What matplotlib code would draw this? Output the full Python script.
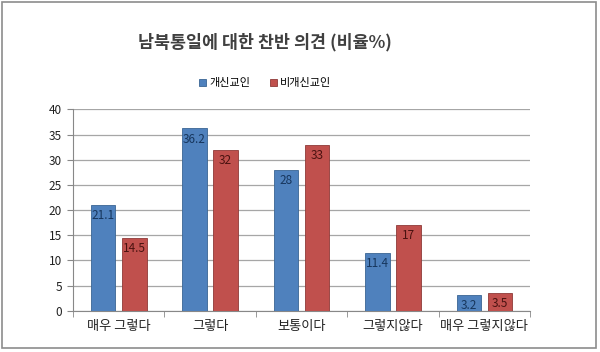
import numpy as np
import matplotlib.pyplot as plt
from matplotlib.patches import Rectangle

plt.rcParams['font.family'] = ['Noto Sans CJK KR', 'DejaVu Sans']

categories = ['매우 그렇다', '그렇다', '보통이다', '그렇지않다', '매우 그렇지않다']
christian = [21.1, 36.2, 28, 11.4, 3.2]
non_christian = [14.5, 32, 33, 17, 3.5]
series_names = ['개신교인', '비개신교인']

blue = '#4F81BD'
red = '#C0504D'

fig = plt.figure(figsize=(6, 3.52), dpi=100)
ax = fig.add_axes([0.1217, 0.1173, 0.7617, 0.572])

x = np.arange(len(categories))
w = 0.268
b1 = ax.bar(x - 0.17, christian, w, color=blue, edgecolor='#3A6594', linewidth=0.6,
            label=series_names[0], zorder=3)
b2 = ax.bar(x + 0.17, non_christian, w, color=red, edgecolor='#8E3A38', linewidth=0.6,
            label=series_names[1], zorder=3)

for bars, vals, c in [(b1, christian, '#17365D'), (b2, non_christian, '#4A1210')]:
    for r, v in zip(bars, vals):
        ax.annotate(f'{v:g}', (r.get_x() + r.get_width() / 2, v), xytext=(0, -3),
                    textcoords='offset points', ha='center', va='top',
                    fontsize=8.5, color=c, zorder=4)

ax.set_xlim(-0.5, 4.5)
ax.set_ylim(0, 40)
ax.set_yticks(range(0, 41, 5))
ax.yaxis.grid(True, color='#A6A6A6', linewidth=0.9, zorder=0)
ax.set_xticks(x)
ax.set_xticklabels(categories, fontsize=9.5, color='#222222')
ax.set_xticks(np.arange(-0.5, 5, 1), minor=True)
ax.tick_params(axis='x', which='major', length=0, pad=7)
ax.tick_params(axis='x', which='minor', length=4, color='#888888')
ax.tick_params(axis='y', length=4, color='#888888', labelsize=8.5, labelcolor='#222222', pad=4)
for s in ['top', 'right']:
    ax.spines[s].set_visible(False)
ax.spines['left'].set_color('#888888')
ax.spines['bottom'].set_color('#888888')

fig.text(0.442, 0.88, '남북통일에 대한 찬반 의견 (비율%)', ha='center', va='center',
         fontsize=12.5, fontweight='bold', color='#404040')
fig.legend(handles=[b1, b2], loc='center', bbox_to_anchor=(0.442, 0.764), ncol=2,
           frameon=False, fontsize=8, handlelength=0.6, handleheight=0.6,
           handletextpad=0.3, columnspacing=1.8)

fig.patches.append(Rectangle((0.004, 0.011), 0.99, 0.983, transform=fig.transFigure,
                             fill=False, edgecolor='#8C8C8C', linewidth=1.2))

fig.savefig('out.png', dpi=100)
